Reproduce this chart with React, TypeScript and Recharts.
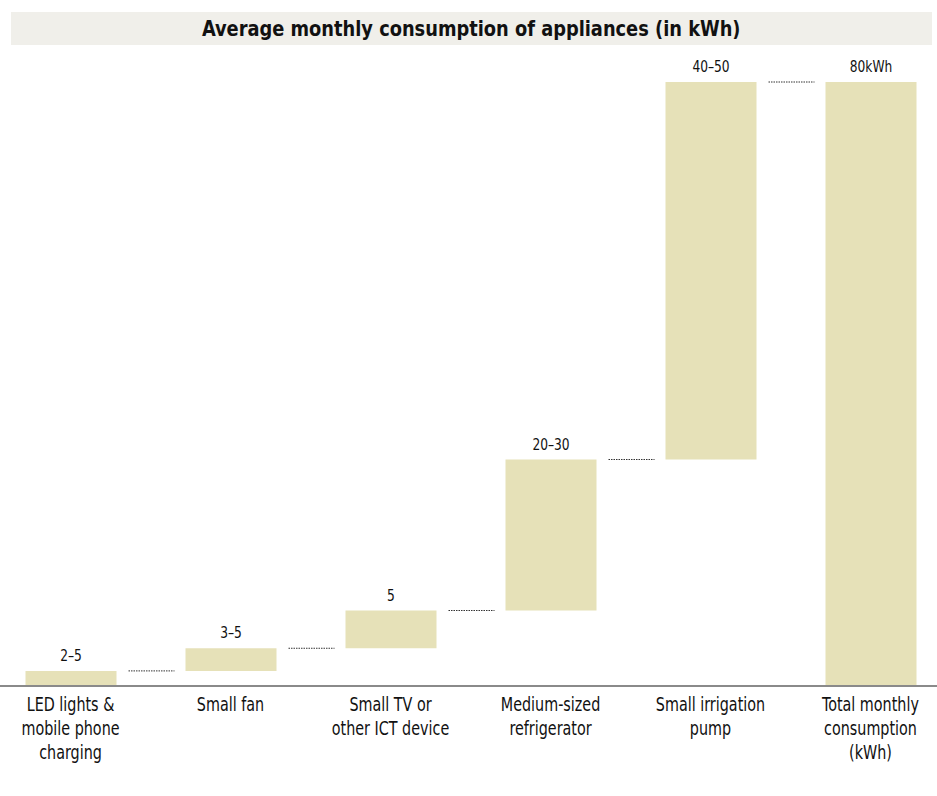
import { Bar, BarChart, LabelList, XAxis, YAxis } from "recharts";

const categories = [
  "LED lights &\nmobile phone\ncharging",
  "Small fan",
  "Small TV or\nother ICT device",
  "Medium-sized\nrefrigerator",
  "Small irrigation\npump",
  "Total monthly\nconsumption\n(kWh)",
];
// waterfall: invisible base + visible step
const baseValues = [0, 2, 5, 10, 30, 0];
const stepValues = [2, 3, 5, 20, 50, 80];
const valueLabels = ["2–5", "3–5", "5", "20–30", "40–50", "80kWh"];
const yTicks = [0, 80];

const data = categories.map((name, i) => ({
  name,
  base: baseValues[i],
  step: stepValues[i],
}));

const font = "'DejaVu Sans Condensed', 'DejaVu Sans', sans-serif";
const barFill = "#e6e1b8";

function CategoryTick(props: any) {
  const { x, y, payload } = props;
  const lines = String(payload.value).split("\n");
  return (
    <g transform={`translate(${x},${y + 17}) scale(0.84,1)`}>
      <text x={0} y={0} textAnchor="middle" fontFamily={font} fontSize={19} fill="#111">
        {lines.map((l, i) => (
          <tspan key={i} x={0} dy={i === 0 ? 0 : 24}>
            {l}
          </tspan>
        ))}
      </text>
    </g>
  );
}

function StepLabel(props: any) {
  const { x, y, width, index } = props;
  const last = index === categories.length - 1;
  return (
    <g>
      <g transform={`translate(${x + width / 2},${y - 10}) scale(0.85,1)`}>
        <text x={0} y={0} textAnchor="middle" fontFamily={font} fontSize={16} fill="#111">
          {valueLabels[index]}
        </text>
      </g>
      {!last && (
        <line
          x1={x + width + 12}
          x2={x + width + 58}
          y1={y}
          y2={y}
          stroke="#333"
          strokeWidth={1}
          strokeDasharray="1.5 1"
        />
      )}
    </g>
  );
}

export default function App() {
  return (
    <div style={{ position: "absolute", left: 0, top: 0, width: 937, height: 796, background: "#fff" }}>
      <div
        style={{
          position: "absolute",
          left: 11,
          top: 12,
          width: 921,
          height: 33,
          background: "#f0efea",
          display: "flex",
          alignItems: "center",
          justifyContent: "center",
          fontFamily: font,
          fontWeight: 700,
          fontSize: 22,
          color: "#111",
        }}
      >
        <span style={{ display: "inline-block", transform: "scaleX(0.9)", whiteSpace: "nowrap" }}>
          Average monthly consumption of appliances (in kWh)
        </span>
      </div>
      <BarChart
        width={937}
        height={796}
        data={data}
        margin={{ top: 82, right: -13.5, left: -9.5, bottom: 30 }}
        barCategoryGap={0}
      >
        <XAxis
          dataKey="name"
          interval={0}
          height={80}
          tickLine={false}
          axisLine={{ stroke: "#8a8a8a", strokeWidth: 2 }}
          tick={<CategoryTick />}
        />
        <YAxis hide domain={[0, 80]} ticks={yTicks} width={0} />
        <Bar dataKey="base" stackId="w" fill="transparent" barSize={91} isAnimationActive={false} />
        <Bar dataKey="step" stackId="w" fill={barFill} barSize={91} isAnimationActive={false}>
          <LabelList dataKey="step" content={<StepLabel />} />
        </Bar>
      </BarChart>
    </div>
  );
}
